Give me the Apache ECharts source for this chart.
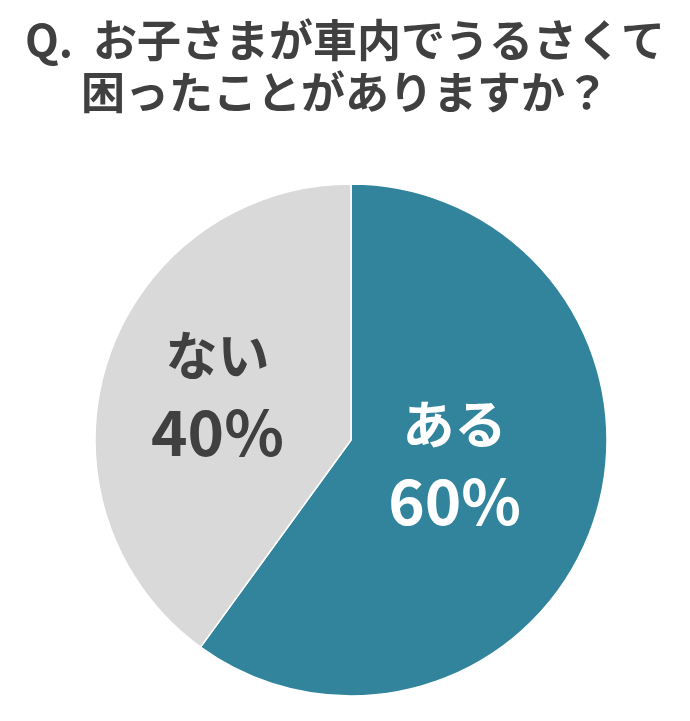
<!DOCTYPE html>
<html><head><meta charset="utf-8">
<script src="https://cdn.jsdelivr.net/npm/echarts@6/dist/echarts.min.js"></script>
<style>html,body{margin:0;padding:0;background:#fff}#c{width:690px;height:721px}</style>
</head><body><div id="c"></div>
<script>
const titleLines = ['Q.  お子さまが車内でうるさくて', '困ったことがありますか？'];
const categories = ['ある', 'ない'];
const values = [60, 40];
const colors = ['#31849B', '#D9D9D9'];
const labelColors = ['#FFFFFF', '#404040'];
const labelShift = [[-21, -19], [-9, -7]];

const titleStyle = { fontFamily: 'Noto Sans CJK JP', fontWeight: 'bold', fontSize: 44, color: '#404040' };
const chart = echarts.init(document.getElementById('c'));
chart.setOption({
  animation: false,
  title: [
    { text: titleLines[0], left: 'center', top: 13, textStyle: titleStyle },
    { text: titleLines[1], left: 'center', top: 65, textStyle: titleStyle }
  ],
  series: [{
    type: 'pie',
    center: [351, 440],
    radius: [0, 256],
    startAngle: 90,
    clockwise: true,
    silent: true,
    itemStyle: { borderColor: '#fff', borderWidth: 1.5 },
    label: {
      position: 'inside',
      formatter: p => '{n|' + p.name + '}\n{p|' + Math.round(p.percent) + '%}',
      fontFamily: 'Noto Sans CJK JP', fontWeight: 'bold',
      rich: {
        n: { fontFamily: 'Noto Sans CJK JP', fontWeight: 'bold', fontSize: 52, lineHeight: 80 },
        p: { fontFamily: 'Noto Sans CJK JP', fontWeight: 'bold', fontSize: 62, lineHeight: 74 }
      }
    },
    labelLayout: p => ({ dx: labelShift[p.dataIndex][0], dy: labelShift[p.dataIndex][1] }),
    data: categories.map((c, i) => ({
      name: c, value: values[i],
      itemStyle: { color: colors[i] },
      label: { color: labelColors[i] }
    }))
  }]
});
</script></body></html>
